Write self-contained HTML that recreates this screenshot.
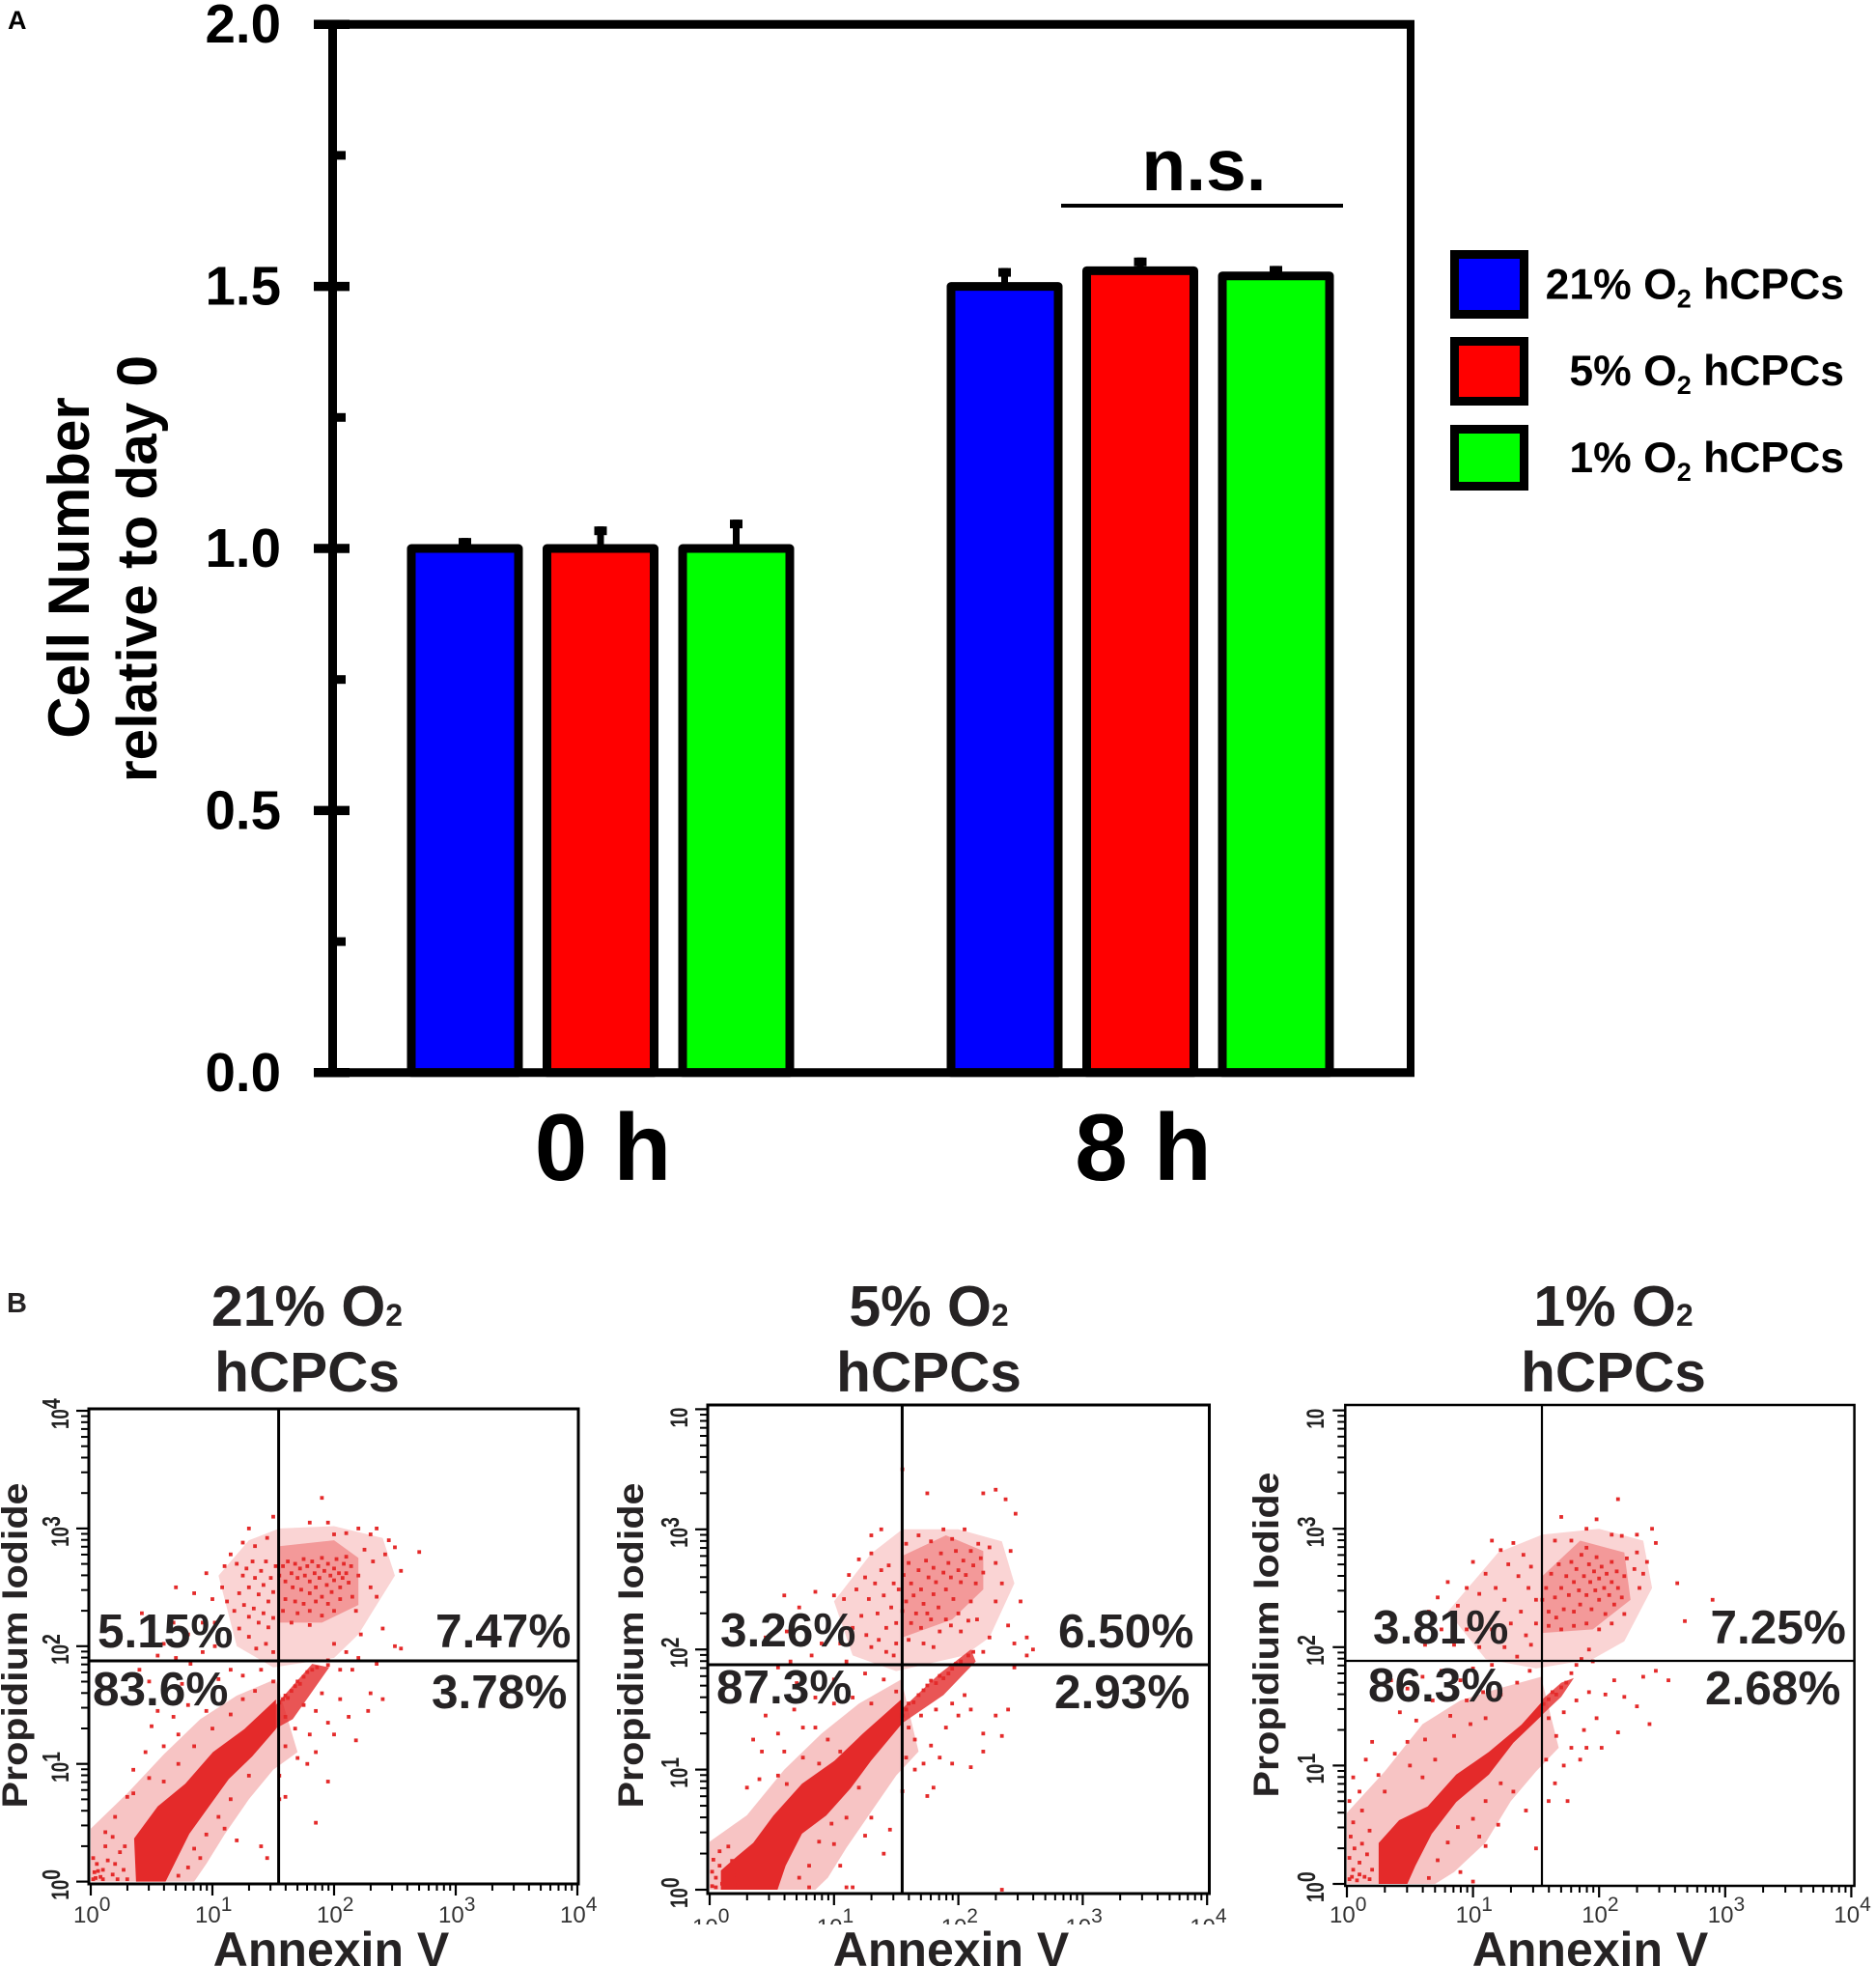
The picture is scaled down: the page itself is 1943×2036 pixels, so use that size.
<!DOCTYPE html>
<html lang="en">
<head>
<meta charset="utf-8">
<title>Cell number and Annexin V / Propidium Iodide flow cytometry</title>
<style>
html,body{margin:0;padding:0;background:#fff;width:1943px;height:2036px;overflow:hidden}
svg{display:block;font-family:"Liberation Sans",Arial,sans-serif}
</style>
</head>
<body>
<svg id="figure" xmlns="http://www.w3.org/2000/svg" width="1943" height="2036" viewBox="0 0 1943 2036">
  <rect x="0" y="0" width="1943" height="2036" fill="#fff"/>
  <g id="panelA"></g>
  <g id="panelB"></g>
</svg>
<script>
/* ---------- Panel A data ---------- */
const categories = ['0 h', '8 h'];
const seriesNames = ['21% O2 hCPCs', '5% O2 hCPCs', '1% O2 hCPCs'];
const values21 = [1.0, 1.5];
const values5 = [1.0, 1.53];
const values1 = [1.0, 1.52];
const errors21 = [0.02, 0.035];
const errors5 = [0.042, 0.025];
const errors1 = [0.055, 0.019];
const majorTicks = [0, 0.5, 1, 1.5, 2];
const majorTickLabels = ['0.0', '0.5', '1.0', '1.5', '2.0'];
const minorTicks = [0.25, 0.75, 1.25, 1.75];

/* ---------- Panel B data (log10 units) ---------- */
const decades = [0, 1, 2, 3, 4];

/* dense population outlines */
const band21 = [[0.356,0.367],[0.55,0.638],[0.777,0.832],[1.004,1.1],[1.263,1.296],[1.522,1.547],[1.522,1.296],[1.328,1.064],[1.134,0.87],[0.972,0.638],[0.81,0.406],[0.68,0.135],[0.615,0],[0.372,0]];
const band5 = [[0.35,0.39],[0.513,0.618],[0.742,0.883],[1.003,1.073],[1.232,1.3],[1.542,1.585],[1.542,1.376],[1.297,1.073],[1.134,0.845],[0.938,0.618],[0.742,0.466],[0.611,0.2],[0.546,0],[0.09,0],[0.09,0.16],[0.22,0.277]];
const band1 = [[0.252,0.346],[0.414,0.538],[0.64,0.654],[0.867,0.923],[1.126,1.115],[1.385,1.346],[1.547,1.538],[1.547,1.423],[1.32,1.192],[1.126,0.923],[0.867,0.692],[0.673,0.423],[0.544,0.154],[0.479,0],[0.252,0]];

/* lighter speckled halo around the diagonal population */
const halo21 = [[0,0.45],[0.3,0.75],[0.6,1.08],[0.9,1.38],[1.2,1.58],[1.52,1.72],[1.7,1.1],[1.5,0.95],[1.3,0.7],[1.1,0.4],[0.95,0.15],[0.85,0],[0,0]];
const halo5 = [[0,0.4],[0.3,0.62],[0.6,1],[0.9,1.3],[1.2,1.55],[1.54,1.75],[1.68,1.15],[1.5,0.95],[1.3,0.65],[1.1,0.35],[0.95,0.1],[0.85,0],[0,0]];
const halo1 = [[0,0.6],[0.3,0.95],[0.6,1.35],[0.9,1.55],[1.2,1.65],[1.54,1.75],[1.68,1.15],[1.5,0.95],[1.3,0.7],[1.1,0.35],[0.85,0.1],[0.7,0],[0,0]];

/* upper-right cluster core and surrounding cloud */
const core21 = [[1.55,2.85],[2,2.9],[2.2,2.75],[2.2,2.35],[1.9,2.2],[1.55,2.2]];
const core5 = [[1.55,2.78],[1.9,2.95],[2.2,2.82],[2.2,2.5],[1.95,2.25],[1.55,2.1]];
const core1 = [[1.55,2.6],[1.85,2.9],[2.2,2.8],[2.25,2.4],[1.95,2.15],[1.55,2.12]];
const cloud21 = [[1.05,2.6],[1.3,2.9],[1.55,3],[2,3.02],[2.4,2.92],[2.5,2.6],[2.2,2.1],[2,1.9],[1.5,1.82],[1.2,2]];
const cloud5 = [[1,2.4],[1.3,2.8],[1.55,3],[2,3],[2.35,2.9],[2.45,2.55],[2.25,2.1],[2.05,1.95],[1.5,1.82],[1.15,1.95]];
const cloud1 = [[0.8,2.3],[1.2,2.8],[1.55,2.95],[2,3],[2.35,2.9],[2.42,2.5],[2.2,2.05],[1.95,1.9],[1.5,1.82],[1.1,1.9]];

/* lower-right chain of events leaving the diagonal */
const chain21 = [[1.52,1.5],[1.82,1.85],[1.96,1.82],[1.66,1.38],[1.52,1.3]];
const chain5 = [[1.54,1.5],[1.85,1.8],[2.1,2],[2.14,1.9],[1.88,1.62],[1.54,1.38]];
const chain1 = [[1.54,1.55],[1.7,1.7],[1.8,1.74],[1.7,1.58],[1.54,1.42]];

const scatter21 = [
[1.55,2.6],[1.58,2.68],[1.6,2.55],[1.62,2.72],[1.65,2.62],[1.66,2.5],[1.68,2.7],[1.7,2.58],[1.72,2.66],[1.73,2.48],[1.75,2.74],[1.76,2.6],[1.78,2.68],[1.8,2.55],[1.8,2.45],[1.82,2.72],[1.84,2.62],[1.85,2.5],[1.87,2.68],[1.88,2.58],[1.9,2.75],[1.9,2.42],[1.92,2.64],[1.94,2.52],[1.95,2.7],[1.97,2.6],[1.98,2.46],[2,2.56],[2,2.66],[2.02,2.74],[2.04,2.62],[2.05,2.5],[2.07,2.58],[2.08,2.7],[2.1,2.76],[2.1,2.62],[2.12,2.54],[2.14,2.68],[2.15,2.42],[1.6,2.4],[1.68,2.38],[1.75,2.36],[1.85,2.38],[1.95,2.36],[2.05,2.4],[1.58,2.3],[1.7,2.28],[1.8,2.3],[1.9,2.26],[2,2.3],[1.65,2.2],[1.8,2.18],
[1.2,2.7],[1.25,2.6],[1.28,2.66],[1.3,2.5],[1.33,2.72],[1.35,2.58],[1.38,2.44],[1.4,2.64],[1.42,2.52],[1.44,2.72],[1.46,2.38],[1.48,2.58],[1.5,2.46],[1.52,2.68],[1.22,2.45],[1.26,2.35],[1.3,2.25],[1.34,2.32],[1.38,2.2],[1.42,2.28],[1.46,2.16],[1.5,2.24],[1.18,2.3],[1.22,2.15],[1.3,2.08],[1.36,1.98],[1.44,2.02],[1.5,1.95],[1.15,2.78],[1.1,2.68],[1.08,2.5],[1.12,2.38],[1.25,2.88],[1.35,2.85],[1.45,2.92],[1.3,3],[1.5,3.1],
[0.7,2.5],[0.85,2.45],[0.95,2.62],[1,2.4],[1.02,2.2],[0.92,2.2],[0.8,2.1],[0.68,2.2],[0.6,2.02],[0.7,1.9],[0.82,1.85],[0.92,1.95],[1.02,2],[0.42,2.28],[0.55,1.92],[0.4,1.8],[0.48,1.7],[0.62,1.62],[0.75,1.68],[0.9,1.7],[1.05,1.72],[1.15,1.8],[1.25,1.75],[1.4,1.8],[1.5,1.7],[0.5,1.32],[0.55,1.45],[0.68,1.4],[0.8,1.5],[0.95,1.45],[1.1,1.55],[1.25,1.55],[1.35,1.62],[0.45,1.1],[0.6,1.15],[0.72,1.25],[0.35,0.95],[0.48,0.88],[0.3,0.72],[0.2,0.55],[0.12,0.42],[0.35,0.75],
[2.2,3],[2.3,2.95],[2.35,3],[2.45,2.9],[2.5,2.84],[2.25,2.82],[2.32,2.72],[2.42,2.78],[2.55,2.64],[2.2,2.6],[2.3,2.5],[2.18,2.3],[2.22,2.1],[2.35,2.42],[2.4,2.15],[2.5,2],[2.55,1.98],[2.2,1.9],[2.35,1.85],[2,2.02],[2.1,1.95],[1.95,1.88],[2.7,2.8],[1.9,3.26],[1.8,3.05],[1.95,3.05],[2,2.95],[2.1,2.96],
[1.55,1.52],[1.58,1.55],[1.6,1.58],[1.62,1.56],[1.65,1.62],[1.68,1.66],[1.7,1.7],[1.72,1.68],[1.75,1.74],[1.78,1.78],[1.82,1.8],[1.86,1.82],[1.95,1.84],[2.05,1.8],[2.15,1.8],[2.3,1.6],[2.4,1.55],[1.6,1.4],[1.68,1.3],[1.75,1.5],[1.8,1.25],[1.85,1.45],[1.9,1.6],[1.95,1.35],[2,1.25],[2.05,1.55],[2.12,1.4],[2.18,1.2],[2.28,1.45],[1.6,1.15],[1.7,1.05],[1.78,1],[1.85,1.1],[1.95,0.85],[1.55,0.9],[1.6,0.72],[1.85,0.5],[1.55,0.7],
[0.02,0.02],[0.03,0.08],[0.05,0.15],[0.02,0.2],[0.08,0.04],[0.1,0.1],[0.14,0.18],[0.18,0.06],[0.2,0.15],[0.24,0.25],[0.12,0.3],[0.18,0.38],[0.27,0.1],[0.28,0.3],[0.3,0.02],[0.1,0.02],[0.04,0.03],[0.06,0.09],[0.22,0.02],[0.72,0.05],[0.8,0.12],[0.85,0.28],[0.95,0.4],[1.05,0.55],[1.15,0.7],[1.3,0.9],[1.4,0.3],[1.45,0.2],[1.2,0.35],[1.1,0.45],[0.9,0.2],[0.6,0.85],[0.72,1],[0.85,1.15],[1,1.3],[1.15,1.42]
];
const scatter5 = [
[1.52,2.5],[1.56,2.62],[1.58,2.4],[1.6,2.72],[1.62,2.55],[1.64,2.45],[1.66,2.3],[1.68,2.66],[1.7,2.5],[1.72,2.38],[1.74,2.74],[1.76,2.6],[1.78,2.25],[1.8,2.68],[1.8,2.46],[1.82,2.56],[1.84,2.35],[1.86,2.8],[1.88,2.64],[1.9,2.5],[1.9,2.25],[1.92,2.72],[1.94,2.6],[1.96,2.42],[1.98,2.82],[2,2.66],[2,2.3],[2.02,2.56],[2.04,2.74],[2.06,2.62],[2.08,2.24],[2.1,2.82],[2.12,2.7],[2.14,2.55],[2.16,2.88],[2.18,2.76],[2.2,2.64],[1.55,2.32],[1.62,2.22],[1.7,2.18],[1.75,2.3],[1.85,2.15],[1.94,2.2],[2.02,2.15],[2.1,2.4],[2.15,2.25],[1.6,2.08],[1.72,2.05],[1.8,2.02],[1.58,2.88],[1.68,2.95],[1.78,2.9],[1.88,3],[1.95,2.92],[2.05,3],[2.25,2.85],[2.3,2.72],[2.35,2.55],[2.42,2.82],[2.3,2.4],[2.4,2.2],[2.45,2.05],[2.5,2.4],[2.55,2.1],[2.45,1.85],[2.55,1.95],[2.6,2],[2.25,2.1],[2.2,1.98],[1.75,3.3],[1.55,3.5],[2.2,3.3],[2.3,3.33],[2.38,3.25],[2.46,3.13],
[1.2,2.75],[1.25,2.6],[1.28,2.42],[1.3,2.8],[1.33,2.55],[1.35,2.3],[1.38,2.66],[1.4,2.45],[1.42,2.18],[1.44,2.7],[1.46,2.35],[1.48,2.55],[1.5,2.22],[1.5,2.05],[1.22,2.28],[1.26,2.12],[1.3,2.02],[1.36,2.08],[1.42,1.98],[1.48,1.95],[1.18,2.5],[1.12,2.62],[1.08,2.42],[1.15,2.18],[1.05,2.05],[1.3,2.95],[1.38,3],[1,2.45],[0.95,2.2],[0.85,2.48],[0.72,2.35],[0.6,2.45],[0.62,2.15],[0.78,2.25],[0.9,2.05],[0.82,1.95],[0.65,1.9],[0.45,2.1],[0.55,1.85],[0.7,1.72],[0.85,1.6],[1,1.75],[1.1,1.9],[1.25,1.8],[1.4,1.75],[1.5,1.65],[1,1.55],[1.15,1.6],[1.3,1.55],[0.45,1.45],[0.55,1.3],[0.68,1.5],[0.75,1.35],[0.35,1.25],[0.42,1.15],[0.6,1.15],[0.85,1.35],[0.95,1.25],[0.4,0.92],[0.55,0.95],[0.3,0.85],
[1.55,1.45],[1.58,1.5],[1.6,1.55],[1.64,1.56],[1.68,1.62],[1.72,1.66],[1.75,1.7],[1.78,1.74],[1.82,1.72],[1.85,1.78],[1.88,1.76],[1.92,1.8],[1.95,1.84],[1.98,1.88],[2.02,1.9],[2.08,1.95],[2.12,1.98],[1.6,1.35],[1.65,1.25],[1.7,1.45],[1.78,1.2],[1.82,1.5],[1.9,1.35],[1.95,1.55],[2,1.45],[2.05,1.62],[2.1,1.5],[2.2,1.3],[2.3,1.45],[1.58,1.1],[1.65,1],[1.72,1.05],[1.8,0.85],[1.85,1.1],[1.95,1.05],[2.1,1.02],[2.2,1.15],[1.75,0.78],[1.55,0.82],[2.4,1.5],[2.35,1.28],
[0.02,0.03],[0.05,0.1],[0.08,0.2],[0.03,0.25],[0.1,0.05],[0.14,0.14],[0.18,0.24],[0.2,0.04],[0.05,0.02],[0.08,0.32],[0.15,0.36],[0.22,0.12],[0.02,0.15],[0.72,0.1],[0.8,0.2],[0.88,0.4],[0.98,0.55],[1.05,0.2],[1.1,0.6],[1.2,0.85],[1.3,0.6],[1.4,0.3],[1.45,0.5],[1.25,0.45],[1,0.38],[0.8,0.02],[1.1,0.02],[1.15,0.02],[2.35,0],[0.62,0.88],[0.75,1.1],[0.88,1.05],[1.05,1.15]
];
const scatter1 = [
[1.55,2.4],[1.58,2.5],[1.6,2.3],[1.62,2.62],[1.65,2.42],[1.66,2.25],[1.68,2.7],[1.7,2.5],[1.72,2.32],[1.74,2.6],[1.76,2.44],[1.78,2.72],[1.8,2.55],[1.8,2.3],[1.82,2.66],[1.84,2.48],[1.85,2.36],[1.86,2.78],[1.88,2.6],[1.9,2.44],[1.9,2.84],[1.92,2.7],[1.93,2.55],[1.94,2.32],[1.96,2.64],[1.97,2.48],[1.98,2.76],[2,2.58],[2,2.4],[2.02,2.68],[2.04,2.5],[2.05,2.28],[2.06,2.62],[2.08,2.44],[2.1,2.72],[2.1,2.55],[2.12,2.36],[2.14,2.64],[2.15,2.5],[2.18,2.42],[2.2,2.6],[2.22,2.75],[2.28,2.66],[2.3,2.8],[2.32,2.5],[2.35,2.62],[1.6,2.18],[1.7,2.15],[1.8,2.18],[1.9,2.2],[2,2.15],[2.1,2.2],[2.2,2.28],[1.65,2.9],[1.78,2.9],[1.9,3],[1.98,3.08],[2.1,2.95],[2.18,2.94],[2.38,2.72],[2.3,2.95],[2.42,3],[2.45,2.88],[2.62,2.54],[2.68,2.22],[2.9,2.4],[1.7,3.1],[2.15,3.25],
[1.15,2.9],[1.22,2.82],[1.28,2.7],[1.32,2.88],[1.36,2.6],[1.4,2.78],[1.44,2.5],[1.46,2.68],[1.5,2.4],[1.5,2.2],[1.1,2.62],[1.18,2.5],[1.25,2.4],[1.3,2.2],[1.38,2.3],[1.42,2.1],[1.46,2.02],[1.05,2.45],[1,2.72],[0.95,2.5],[0.88,2.35],[0.8,2.55],[0.72,2.42],[0.65,2.3],[0.55,2.12],[0.62,2.02],[0.75,2.15],[0.85,2.02],[0.95,2.15],[1.05,2],[1.15,2.15],[1.25,2],[1.35,1.92],[1.15,1.85],[1,1.82],[0.9,1.72],[0.75,1.8],[0.6,1.75],[0.48,1.65],[0.35,1.72],[0.42,1.45],[0.55,1.38],[0.68,1.55],[0.82,1.42],[0.95,1.55],[1.08,1.62],[1.22,1.6],[1.35,1.7],[1.45,1.8],[0.48,1.2],[0.62,1.22],[0.7,1.05],[0.85,1.25],[0.98,1.35],[1.1,1.4],[0.38,1.1],[0.5,1],[0.6,0.9],[0.2,1.2],[0.15,1.05],[0.25,0.92],[0.3,0.78],[0.05,0.9],[0.02,0.7],[0.12,0.62],[0.05,0.52],[0.1,0.78],[0.18,0.45],
[1.56,1.52],[1.6,1.56],[1.63,1.62],[1.66,1.6],[1.7,1.66],[1.74,1.7],[1.78,1.78],[1.82,1.85],[1.86,1.9],[1.92,1.98],[1.95,1.88],[1.6,1.4],[1.66,1.25],[1.72,1.45],[1.78,1.15],[1.82,1.55],[1.88,1.3],[1.92,1.62],[1.98,1.4],[2.05,1.6],[2.12,1.72],[2.2,1.58],[2.3,1.5],[2.4,1.35],[2.15,1.28],[2.02,1.15],[1.9,1.15],[1.72,1],[1.85,1.05],[1.65,0.85],[1.58,1.05],[1.75,0.7],[1.6,0.7],[2.35,1.75],[2.45,1.8],[2.55,1.72],
[0.02,0.04],[0.05,0.12],[0.02,0.22],[0.08,0.03],[0.1,0.18],[0.14,0.06],[0.16,0.25],[0.2,0.12],[0.06,0.3],[0.12,0.34],[0.18,0.04],[0.03,0.4],[0.04,0.06],[0.1,0.08],[0.72,0.2],[0.8,0.35],[0.88,0.48],[1,0.55],[1.1,0.7],[1.22,0.85],[1.32,0.78],[1.1,0.32],[1.2,0.5],[1.42,0.62],[1.5,0.3],[1.05,0.4],[0.9,0.1],[1,0.02],[0.65,0.05]
];

/* ---------- helpers ---------- */
const NS = 'http://www.w3.org/2000/svg';
function make(parent, tag, attrs, content) {
  const el = document.createElementNS(NS, tag);
  for (const k in attrs) el.setAttribute(k, attrs[k]);
  if (content !== undefined) el.textContent = content;
  parent.appendChild(el);
  return el;
}
function tspan(parent, attrs, content) {
  return make(parent, 'tspan', attrs, content);
}

/* ---------- Panel A ---------- */
const A = document.getElementById('panelA');
const y0 = 1110.8, yUnit = 542.8;
function yScale(v) { return y0 - yUnit * v; }
function groupX(i) { return 622 + 559 * i; }
function barX(i, s) { return groupX(i) + (s - 1) * 140.5; }
const BLACK = '#000';
const seriesValues = [values21, values5, values1];
const seriesErrors = [errors21, errors5, errors1];
const seriesColors = ['#0000ff', '#ff0000', '#00ff00'];
const seriesKeys = ['21', '5', '1'];

seriesValues.forEach(function (vals, s) {
  vals.forEach(function (v, i) {
    const cx = barX(i, s);
    const capTop = yScale(v + seriesErrors[s][i]);
    const stem = make(A, 'rect', {x: cx - 3.5, y: capTop, width: 7, height: yScale(v) - capTop, fill: BLACK});
    
    
    const cap = make(A, 'rect', {x: cx - 6.5, y: capTop, width: 13, height: 9, fill: BLACK});
    
    
    const bar = make(A, 'rect', {x: cx - 55.5, y: yScale(v), width: 111, height: y0 - yScale(v), fill: seriesColors[s], stroke: BLACK, 'stroke-width': 9, 'stroke-linejoin': 'round'});
    
    
  });
});

const leftAxis = make(A, 'line', {x1: 344.5, x2: 344.5, y1: yScale(2), y2: y0, stroke: BLACK, 'stroke-width': 9});


const rightAxis = make(A, 'line', {x1: 1461, x2: 1461, y1: yScale(2) - 4, y2: y0 + 4, stroke: BLACK, 'stroke-width': 8});


const topAxis = make(A, 'line', {x1: 325, x2: 1465, y1: yScale(2), y2: yScale(2), stroke: BLACK, 'stroke-width': 9});


const bottomAxis = make(A, 'line', {x1: 325, x2: 1465, y1: y0, y2: y0, stroke: BLACK, 'stroke-width': 9});



majorTicks.forEach(function (v, i) {
  const tick = make(A, 'line', {x1: 325, x2: 362, y1: yScale(v), y2: yScale(v), stroke: BLACK, 'stroke-width': 9.5});
  
  
  const lab = make(A, 'text', {x: 291, y: yScale(v) + 19, 'text-anchor': 'end', 'font-size': 56.5, 'font-weight': 700, fill: BLACK}, majorTickLabels[i]);
  
  
});
minorTicks.forEach(function (v) {
  const tick = make(A, 'line', {x1: 344, x2: 358, y1: yScale(v), y2: yScale(v), stroke: BLACK, 'stroke-width': 9});
  
  
});
categories.forEach(function (c, i) {
  const lab = make(A, 'text', {x: groupX(i) + (i ? 3 : 2.5), y: 1222, 'text-anchor': 'middle', 'font-size': 98, 'font-weight': 700, fill: BLACK}, c);
  
  
});

const yTitle1 = make(A, 'text', {transform: 'translate(92,588) rotate(-90)', 'text-anchor': 'middle', 'font-size': 60, 'font-weight': 700, fill: BLACK}, 'Cell Number');


const yTitle2 = make(A, 'text', {transform: 'translate(162,589) rotate(-90)', 'text-anchor': 'middle', 'font-size': 58.5, 'font-weight': 700, fill: BLACK}, 'relative to day 0');



const ns = make(A, 'text', {x: 1247, y: 197, 'text-anchor': 'middle', 'font-size': 75, 'font-weight': 700, fill: BLACK}, 'n.s.');


const nsLine = make(A, 'rect', {x: 1099, y: 211, width: 292, height: 4, fill: BLACK});



const panelALabel = make(A, 'text', {x: 8, y: 30, 'font-size': 27, 'font-weight': 700, fill: BLACK}, 'A');



const legendTops = [259, 349, 440];
const legendHeights = [71, 71, 68];
const legendBase = [309.5, 399, 489];
const legendPrefix = ['21% O', '5% O', '1% O'];
seriesColors.forEach(function (col, s) {
  const sw = make(A, 'rect', {x: 1506.5, y: legendTops[s] + 4.5, width: 72, height: legendHeights[s] - 9, fill: col, stroke: BLACK, 'stroke-width': 9});
  
  
  const t = make(A, 'text', {x: 1910, y: legendBase[s], 'text-anchor': 'end', 'font-size': 44.5, 'font-weight': 700, fill: BLACK});
  
  
  tspan(t, {}, legendPrefix[s]);
  tspan(t, {'font-size': 27, dy: 9}, '2');
  tspan(t, {dy: -9}, ' hCPCs');
});

/* ---------- Panel B ---------- */
const B = document.getElementById('panelB');
const DARK = '#262324';
const DOT = '#e42a2a';

function drawFlow(cfg) {
  const g = make(B, 'g', {});
  
  
  const xs = function (v) { return cfg.x0 + cfg.xDec * v; };
  const ys = function (v) { return cfg.y0 - cfg.yDec * v; };
  const toPoints = function (arr) {
    return arr.map(function (p) { return xs(p[0]).toFixed(1) + ',' + ys(p[1]).toFixed(1); }).join(' ');
  };

  const halo = make(g, 'polygon', {points: toPoints(cfg.halo), fill: DOT, 'fill-opacity': 0.28});
  
  
  const cloud = make(g, 'polygon', {points: toPoints(cfg.cloud), fill: DOT, 'fill-opacity': 0.2});
  
  
  const core = make(g, 'polygon', {points: toPoints(cfg.core), fill: DOT, 'fill-opacity': 0.35});
  
  
  const band = make(g, 'polygon', {points: toPoints(cfg.band), fill: DOT});
  
  
  const chain = make(g, 'polygon', {points: toPoints(cfg.chain), fill: DOT, 'fill-opacity': 0.8});
  
  

  cfg.points.forEach(function (p) {
    const d = make(g, 'rect', {x: xs(p[0]) - 1.9, y: ys(p[1]) - 1.9, width: 3.8, height: 3.8, fill: DOT});
    
    
  });

  const frame = make(g, 'rect', {x: cfg.left, y: cfg.top, width: cfg.right - cfg.left, height: cfg.bottom - cfg.top, fill: 'none', stroke: BLACK, 'stroke-width': cfg.sw});
  
  
  const gv = make(g, 'line', {x1: cfg.gateX, x2: cfg.gateX, y1: cfg.top, y2: cfg.bottom, stroke: BLACK, 'stroke-width': cfg.gw});
  
  
  const gh = make(g, 'line', {x1: cfg.left, x2: cfg.right, y1: cfg.gateY, y2: cfg.gateY, stroke: BLACK, 'stroke-width': cfg.gw});
  
  

  decades.forEach(function (d) {
    const tx = make(g, 'line', {x1: xs(d), x2: xs(d), y1: cfg.bottom, y2: cfg.bottom + 12, stroke: BLACK, 'stroke-width': 2.2});
    
    
    const ty = make(g, 'line', {x1: cfg.left - 13, x2: cfg.left, y1: ys(d), y2: ys(d), stroke: BLACK, 'stroke-width': 2.2});
    
    
    if (d < 4) {
      for (let m = 2; m <= 9; m++) {
        const lg = Math.log10(m);
        const mx = make(g, 'line', {x1: xs(d + lg), x2: xs(d + lg), y1: cfg.bottom, y2: cfg.bottom + 7, stroke: BLACK, 'stroke-width': 2});
        
        
        const my = make(g, 'line', {x1: cfg.left - 8, x2: cfg.left, y1: ys(d + lg), y2: ys(d + lg), stroke: BLACK, 'stroke-width': 2});
        
        
      }
    }
    const xl = make(g, 'text', {x: xs(d) - 18, y: cfg.xLabelY, 'font-size': 24, fill: '#333'});
    
    
    tspan(xl, {}, '10');
    tspan(xl, {'font-size': 21, dy: cfg.xSupDy}, String(d));

    const yl = make(g, 'text', {transform: 'translate(' + cfg.yLabelX + ',' + (ys(d) + 19) + ') rotate(-90) scale(0.75,1)', 'font-size': 25, 'font-weight': 700, fill: '#222'});
    
    
    tspan(yl, {}, '10');
    if (d < 4 || cfg.key === '21') tspan(yl, {'font-size': 26, dy: -9}, String(d));
  });

  if (cfg.clipY) {
    const mask = make(g, 'rect', {x: cfg.left - 20, y: cfg.clipY, width: cfg.right - cfg.left + 50, height: 2036 - cfg.clipY, fill: '#fff'});
    
    
  }

  const title1 = make(g, 'text', {x: cfg.titleX, y: 1373, 'text-anchor': 'middle', 'font-size': 59, 'font-weight': 700, fill: DARK});
  
  
  tspan(title1, {}, cfg.title + ' O');
  tspan(title1, {'font-size': 32}, '2');
  const title2 = make(g, 'text', {x: cfg.titleX, y: 1441, 'text-anchor': 'middle', 'font-size': 58.5, 'font-weight': 700, fill: DARK}, 'hCPCs');
  
  

  cfg.pct.forEach(function (p) {
    const t = make(g, 'text', {x: p[1], y: p[2], 'font-size': 49.5, 'font-weight': 700, fill: DARK}, p[0]);
    
    
  });

  const xTitle = make(g, 'text', {x: cfg.xTitleX, y: 2036, 'text-anchor': 'middle', 'font-size': 50, 'font-weight': 700, fill: DARK}, 'Annexin V');
  
  
  const yTitle = make(g, 'text', {transform: 'translate(' + cfg.yTitleX + ',' + cfg.yTitleY + ') rotate(-90)', 'text-anchor': 'middle', 'font-size': 37, 'font-weight': 700, fill: DARK, textLength: 337, lengthAdjust: 'spacingAndGlyphs'}, 'Propidium Iodide');
  
  
}

drawFlow({key: '21', title: '21%', titleX: 318, band: band21, halo: halo21, core: core21, cloud: cloud21, chain: chain21, points: scatter21,
  x0: 94, xDec: 126, y0: 1948.6, yDec: 121.9, left: 92, right: 599, top: 1459, bottom: 1951, gateX: 288.6, gateY: 1720, sw: 3, gw: 3,
  xLabelY: 1991, xSupDy: -12, yLabelX: 71, xTitleX: 343, yTitleX: 28, yTitleY: 1704,
  pct: [['5.15%', 101, 1706], ['7.47%', 451, 1706], ['83.6%', 96, 1766], ['3.78%', 447, 1769]]});
drawFlow({key: '5', title: '5%', titleX: 962, band: band5, halo: halo5, core: core5, cloud: cloud5, chain: chain5, points: scatter5,
  x0: 735, xDec: 128.8, y0: 1957, yDec: 124.4, left: 733, right: 1252.5, top: 1455, bottom: 1961, gateX: 934.4, gateY: 1724, sw: 3, gw: 3,
  xLabelY: 2004, xSupDy: -13, yLabelX: 712, xTitleX: 985, yTitleX: 666, yTitleY: 1704, clipY: 1993,
  pct: [['3.26%', 746, 1705], ['6.50%', 1096, 1706], ['87.3%', 742, 1764], ['2.93%', 1092, 1769]]});
drawFlow({key: '1', title: '1%', titleX: 1671, band: band1, halo: halo1, core: core1, cloud: cloud1, chain: chain1, points: scatter1,
  x0: 1395, xDec: 130.6, y0: 1951, yDec: 122.6, left: 1393.3, right: 1920.6, top: 1455, bottom: 1953, gateX: 1597, gateY: 1720, sw: 2.5, gw: 2.2,
  xLabelY: 1991, xSupDy: -12, yLabelX: 1371, xTitleX: 1647, yTitleX: 1324, yTitleY: 1693,
  pct: [['3.81%', 1422, 1702], ['7.25%', 1771.5, 1702], ['86.3%', 1417, 1762], ['2.68%', 1766, 1765]]});

const panelBLabel = make(B, 'text', {x: 7, y: 1359, 'font-size': 29, 'font-weight': 700, fill: DARK}, 'B');


</script>
</body>
</html>
